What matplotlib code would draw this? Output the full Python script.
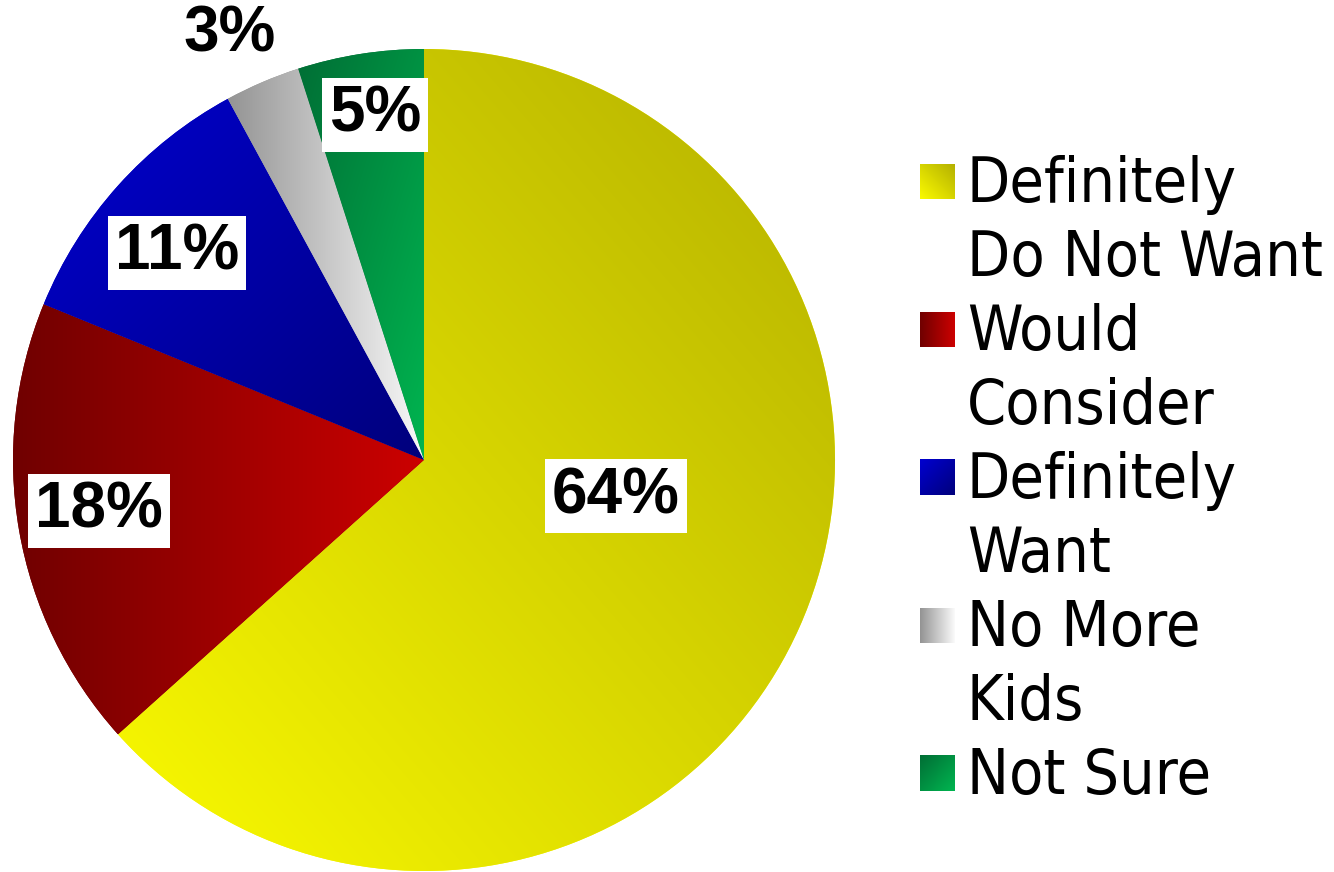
import numpy as np
import matplotlib.pyplot as plt
from matplotlib.colors import to_rgb

# data
labels = ["Definitely\nDo Not Want", "Would\nConsider", "Definitely\nWant", "No More\nKids", "Not Sure"]
values = [64, 18, 11, 3, 5]
pct_labels = ["64%", "18%", "11%", "3%", "5%"]

# gradient colours (start -> end) and direction in degrees
c_start = ["#fafa00", "#700000", "#0000d0", "#949494", "#006e35"]
c_end = ["#b4b000", "#cc0000", "#00007c", "#fafafa", "#00b550"]
g_angle = [45, 0, -45, 0, -45]

W, H = 1334, 872


def gradient(c1, c2, ang, n=200):
    x = np.linspace(0, 1, n)
    X, Y = np.meshgrid(x, x)
    a = np.deg2rad(ang)
    p = X * np.cos(a) + Y * np.sin(a)
    p = (p - p.min()) / (p.max() - p.min())
    c1 = np.array(to_rgb(c1))
    c2 = np.array(to_rgb(c2))
    return c1 + (c2 - c1) * p[..., None]


fig = plt.figure(figsize=(13.34, 8.72), dpi=100)
ax = fig.add_axes([0, 0, 1, 1])

cx, cy, r = 424, H - 460, 411
wedges, _ = ax.pie(values, startangle=90, counterclock=False, center=(cx, cy),
                   radius=r, colors=c_start, wedgeprops=dict(linewidth=0))

for w, c1, c2, a in zip(wedges, c_start, c_end, g_angle):
    e = w.get_path().get_extents()
    im = ax.imshow(gradient(c1, c2, a), extent=[e.x0, e.x1, e.y0, e.y1], origin="lower",
                   aspect="auto", interpolation="bilinear", zorder=2)
    im.set_clip_path(w)

# percentage labels (pixel positions, y from top)
label_xy = [(616, 496), (99, 511), (177, 253), (230, 35), (375, 115)]
for txt, (x, y) in zip(pct_labels, label_xy):
    box = None if txt == "3%" else dict(boxstyle="square,pad=0.11", fc="white", ec="none")
    ax.text(x, H - y, txt, ha="center", va="center", fontsize=46, fontweight="bold",
            family="Liberation Sans", bbox=box, zorder=5)

# legend drawn by hand so the swatches can carry the gradient
base0 = 202
pitch = 74
line = 0
for lab, c1, c2, a in zip(labels, c_start, c_end, g_angle):
    b = base0 + pitch * line
    ax.imshow(gradient(c1, c2, a, 50), extent=[920, 955, H - (b - 3), H - (b - 38)],
              origin="lower", aspect="auto", interpolation="bilinear", zorder=2)
    for i, part in enumerate(lab.split("\n")):
        ax.text(967, H - (b + pitch * i), part, ha="left", va="baseline", fontsize=45,
                family="DejaVu Sans", fontstretch="condensed", zorder=5)
    line += len(lab.split("\n"))

ax.set_xlim(0, W)
ax.set_ylim(0, H)
ax.axis("off")
fig.savefig("out.png", dpi=100)
